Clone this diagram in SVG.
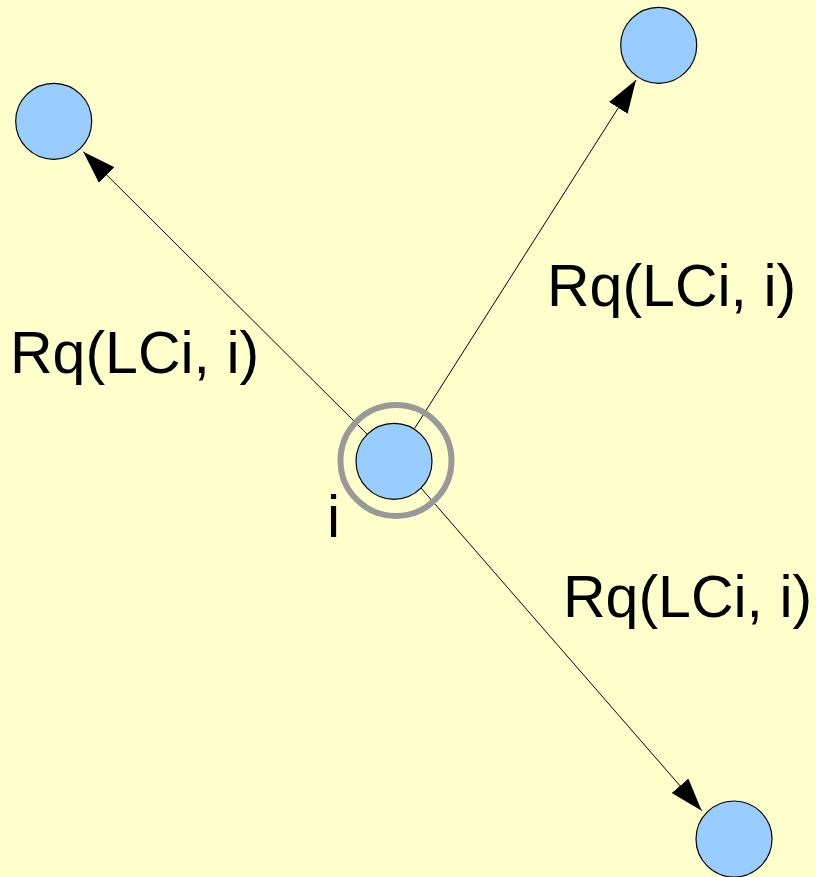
<svg xmlns="http://www.w3.org/2000/svg" width="816" height="877" viewBox="0 0 816 877">
<defs>
<style>
.node{fill:#99ccff;stroke:#000;stroke-width:1.2}
.ring{fill:none;stroke:#999999;stroke-width:6}
.edge{stroke:#000;stroke-width:1;fill:none;marker-end:url(#arr)}
.lbl{font-family:"Liberation Sans",Arial,sans-serif;font-size:59px;fill:#000}
</style>
<marker id="arr" markerUnits="userSpaceOnUse" markerWidth="34" markerHeight="24" refX="33" refY="11" orient="auto">
<path d="M0,0 L33,11 L0,22 z" fill="#000"/>
</marker>
</defs>
<rect width="816" height="877" fill="#ffffcc"/>
<g id="connectors">
<line class="edge" x1="367" y1="434" x2="83.3" y2="151.7"/>
<line class="edge" x1="414.5" y1="428.5" x2="636" y2="80"/>
<line class="edge" x1="421" y1="488" x2="701.7" y2="810.7"/>
</g>
<g id="node-i">
<circle class="ring" cx="396" cy="460.5" r="55.5"/>
<circle class="node" cx="394" cy="461.3" r="38"/>
<text class="lbl" x="327" y="537">i</text>
</g>
<g id="node-topleft"><circle class="node" cx="53.7" cy="121.3" r="38"/></g>
<g id="node-topright"><circle class="node" cx="658.7" cy="45.3" r="38"/></g>
<g id="node-bottomright"><circle class="node" cx="734" cy="839" r="38"/></g>
<g id="labels">
<text class="lbl" x="10" y="373">Rq(LCi, i)</text>
<text class="lbl" x="547" y="306">Rq(LCi, i)</text>
<text class="lbl" x="563" y="617">Rq(LCi, i)</text>
</g>
</svg>
